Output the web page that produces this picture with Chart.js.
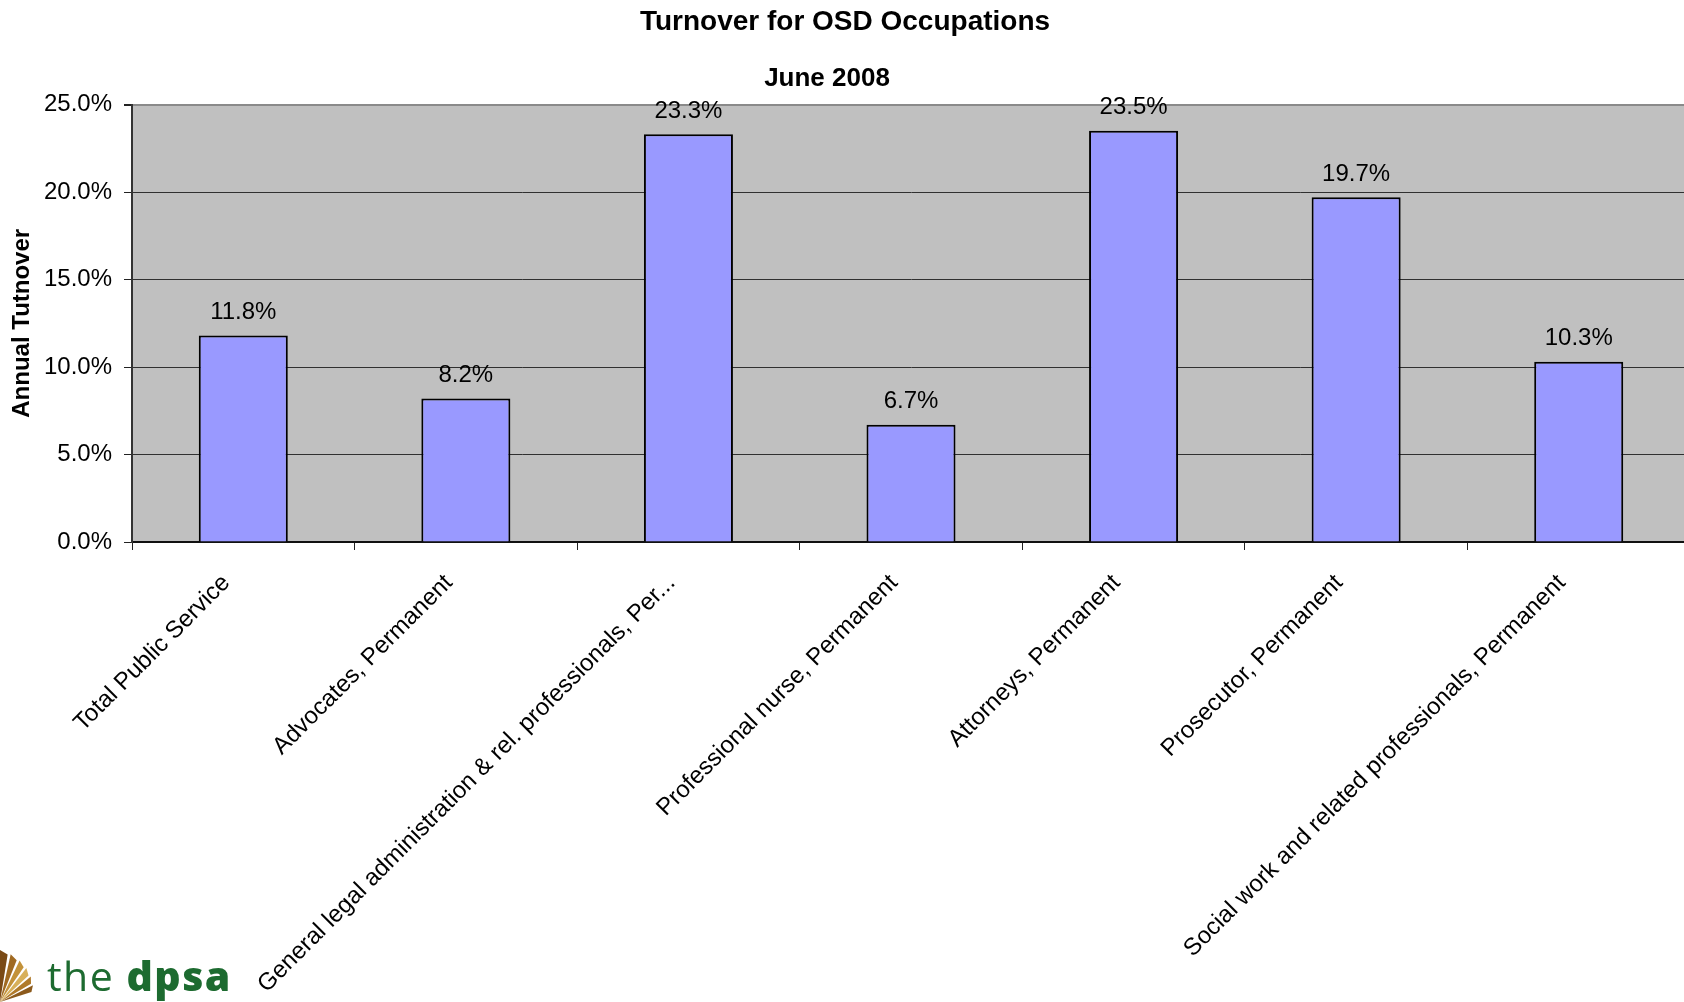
<!DOCTYPE html>
<html>
<head>
<meta charset="utf-8">
<title>Turnover for OSD Occupations</title>
<script src="https://cdn.jsdelivr.net/npm/chart.js@4.4.1/dist/chart.umd.min.js"></script>
<style>
  html, body { margin: 0; padding: 0; background: #fff; overflow: hidden; }
  #wrap { position: relative; width: 1690px; height: 1002px; }
  .logo {
    position: absolute; left: 47px; top: 955px;
    color: #1d6b30; font-family: "Open Sans", "Noto Sans", sans-serif;
    font-size: 41px; letter-spacing: 1.5px; line-height: 1; white-space: nowrap;
  }
  .logo b { font-weight: 800; }
</style>
</head>
<body>
<div id="wrap">
  <canvas id="turnoverChart"></canvas>
  <div class="logo">the <b>dpsa</b></div>
</div>
<script>
// annual turnover per OSD occupation, June 2008
const occupations = [
  "Total Public Service",
  "Advocates, Permanent",
  "General legal administration & rel. professionals, Per...",
  "Professional nurse, Permanent",
  "Attorneys, Permanent",
  "Prosecutor, Permanent",
  "Social work and related professionals, Permanent",
];
const turnoverPct = [11.8, 8.2, 23.3, 6.7, 23.5, 19.7, 10.3];
const yMin = 0;
const yMax = 25;
const yStep = 5;
const subtitleText = "June 2008";

const FONT = "'Liberation Sans', Arial, sans-serif";

// grey plot area behind the bars
const plotBackground = {
  id: "plotBackground",
  beforeDraw(chart) {
    const { ctx, chartArea: a } = chart;
    ctx.save();
    ctx.fillStyle = "#c0c0c0";
    ctx.fillRect(a.left, a.top, chart.width - a.left, a.bottom - a.top);
    ctx.restore();
  },
};

// second title line, sits a little left of the main title's centre
const subTitleLine = {
  id: "subTitleLine",
  afterDraw(chart) {
    const { ctx } = chart;
    ctx.save();
    ctx.font = "bold 26px " + FONT;
    ctx.fillStyle = "#000";
    ctx.textAlign = "center";
    ctx.textBaseline = "middle";
    ctx.fillText(subtitleText, 827, 79);
    ctx.restore();
  },
};

// value text above each bar
const valueLabels = {
  id: "valueLabels",
  afterDatasetsDraw(chart) {
    const { ctx } = chart;
    const meta = chart.getDatasetMeta(0);
    ctx.save();
    ctx.font = "24px " + FONT;
    ctx.fillStyle = "#000";
    ctx.textAlign = "center";
    ctx.textBaseline = "middle";
    meta.data.forEach((bar, i) => {
      const v = chart.data.datasets[0].data[i];
      ctx.fillText(v.toFixed(1) + "%", bar.x, bar.y - 23);
    });
    ctx.restore();
  },
};

// small gold wing emblem next to the logo text
const emblem = {
  id: "emblem",
  afterDraw(chart) {
    const { ctx } = chart;
    ctx.save();
    const cx = 0, cy = 1002;
    const cols = ["#7a4a16", "#a06a22", "#c3923a", "#d8b05a", "#b07a2a", "#8c5a1c"];
    for (let k = 0; k < 6; k++) {
      const a0 = -Math.PI / 2 + k * 0.22;
      const r = 52 - k * 3;
      ctx.beginPath();
      ctx.moveTo(cx, cy);
      ctx.lineTo(cx + Math.cos(a0) * r, cy + Math.sin(a0) * r);
      ctx.lineTo(cx + Math.cos(a0 + 0.16) * (r - 4), cy + Math.sin(a0 + 0.16) * (r - 4));
      ctx.closePath();
      ctx.fillStyle = cols[k];
      ctx.fill();
    }
    ctx.restore();
  },
};

new Chart(document.getElementById("turnoverChart"), {
  type: "bar",
  data: {
    labels: occupations,
    datasets: [{
      data: turnoverPct,
      backgroundColor: "#9999ff",
      borderColor: "#000",
      borderWidth: 2,
      categoryPercentage: 1,
      barPercentage: 0.4,
    }],
  },
  options: {
    responsive: true,
    maintainAspectRatio: false,
    animation: false,
    layout: { padding: 0 },
    plugins: {
      legend: { display: false },
      tooltip: { enabled: false },
      title: {
        display: true,
        text: "Turnover for OSD Occupations",
        color: "#000",
        font: { family: FONT, size: 28, weight: "bold" },
        // bottom padding leaves room for the June 2008 line
        padding: { top: 5, bottom: 66 },
      },
    },
    scales: {
      x: {
        afterFit(scale) { scale.height = 460; },
        grid: {
          offset: true,
          drawOnChartArea: false,
          drawTicks: true,
          tickLength: 8,
          tickColor: "#222",
        },
        border: { color: "#111", width: 2 },
        ticks: {
          color: "#000",
          font: { family: FONT, size: 24 },
          minRotation: 45,
          maxRotation: 45,
          autoSkip: false,
          padding: 19,
          labelOffset: -17,
        },
      },
      y: {
        min: yMin,
        max: yMax,
        afterFit(scale) { scale.width = 132; },
        grid: {
          color: (c) => (c.tick && c.tick.value === yMax ? "#8a8a8a" : "#303030"),
          lineWidth: (c) => (c.tick && c.tick.value === yMax ? 2 : 1),
          tickLength: 8,
          tickColor: "#222",
        },
        border: { color: "#333", width: 2 },
        ticks: {
          stepSize: yStep,
          color: "#000",
          padding: 12,
          font: { family: FONT, size: 24 },
          callback: (v) => v.toFixed(1) + "%",
        },
        title: {
          display: true,
          text: "Annual Tutnover",
          color: "#000",
          font: { family: FONT, size: 24, weight: "bold" },
          padding: { top: 8, bottom: 0 },
        },
      },
    },
  },
  plugins: [plotBackground, subTitleLine, valueLabels, emblem],
});
</script>
</body>
</html>
